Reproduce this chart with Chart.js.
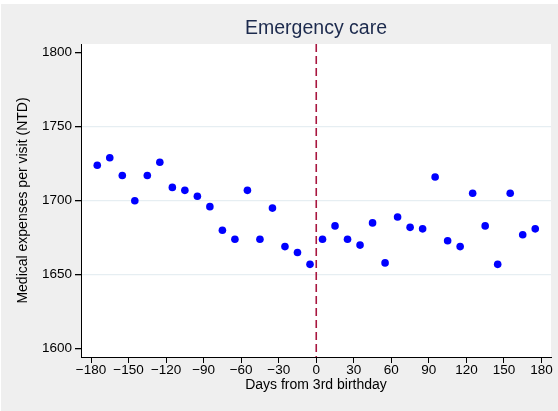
<!DOCTYPE html>
<html>
<head>
<meta charset="utf-8">
<script src="https://cdn.jsdelivr.net/npm/chart.js@4/dist/chart.umd.min.js"></script>
<style>
  html, body { margin: 0; padding: 0; background: #ffffff; }
  #wrap { position: absolute; left: 1px; top: 4px; width: 557px; height: 407px; background: #efefef; }
</style>
</head>
<body>
<div id="wrap"><canvas id="chart"></canvas></div>
<script>
// days from 3rd birthday (10-day bins, centre of bin)
const days = [
  -175, -165, -155, -145, -135, -125, -115, -105, -95, -85, -75, -65,
  -55, -45, -35, -25, -15, -5, 5, 15, 25, 35, 45, 55,
  65, 75, 85, 95, 105, 115, 125, 135, 145, 155, 165, 175
];
// mean medical expenses per visit (NTD)
const expenses = [
  1724, 1729, 1717, 1700, 1717, 1726, 1709, 1707, 1703, 1696, 1680, 1674,
  1707, 1674, 1695, 1669, 1665, 1657, 1674, 1683, 1674, 1670, 1685, 1658,
  1689, 1682, 1681, 1716, 1673, 1669, 1705, 1683, 1657, 1705, 1677, 1681
];
const yTicks = [1600, 1650, 1700, 1750, 1800];
const xTicks = [-180, -150, -120, -90, -60, -30, 0, 30, 60, 90, 120, 150, 180];
const cutoff = 0;

const FONT = '"Liberation Sans", Arial, sans-serif';

const plotBg = {
  id: 'plotBg',
  beforeDraw(chart) {
    const { ctx, chartArea: a } = chart;
    ctx.save();
    ctx.fillStyle = '#ffffff';
    ctx.fillRect(a.left, a.top, a.right - a.left, a.bottom - a.top);
    ctx.restore();
  },
};

const cutoffLine = {
  id: 'cutoffLine',
  beforeDatasetsDraw(chart) {
    const { ctx, chartArea: a, scales } = chart;
    const x = scales.x.getPixelForValue(cutoff);
    ctx.save();
    ctx.strokeStyle = '#a8163f';
    ctx.lineWidth = 1.6;
    ctx.setLineDash([8, 4]);
    ctx.beginPath();
    ctx.moveTo(x, a.top);
    ctx.lineTo(x, a.bottom);
    ctx.stroke();
    ctx.restore();
  },
};

new Chart(document.getElementById('chart'), {
  type: 'scatter',
  data: {
    datasets: [
      {
        data: days.map((d, i) => ({ x: d, y: expenses[i] })),
        backgroundColor: '#0000ff',
        borderWidth: 0,
        pointRadius: 3.8,
      },
    ],
  },
  options: {
    responsive: true,
    maintainAspectRatio: false,
    animation: false,
    layout: { padding: { right: 7 } },
    plugins: {
      legend: { display: false },
      tooltip: { enabled: false },
      title: {
        display: true,
        text: 'Emergency care',
        fullSize: false,
        color: '#1c2a4d',
        font: { family: FONT, size: 19.5, weight: 'normal' },
        padding: { top: 13, bottom: 3.6 },
      },
    },
    scales: {
      x: {
        type: 'linear',
        min: -188,
        max: 187.6,
        afterBuildTicks: (s) => { s.ticks = xTicks.map((v) => ({ value: v })); },
        afterFit: (s) => { s.height = 54; },
        ticks: {
          color: '#000000',
          padding: -0.5,
          font: { family: FONT, size: 13.5 },
          callback: (v) => (v < 0 ? '\u2212' + Math.abs(v) : String(v)),
        },
        grid: { drawOnChartArea: false, tickColor: '#000000', tickLength: 6 },
        border: { color: '#000000', width: 1 },
        title: {
          display: true,
          text: 'Days from 3rd birthday',
          color: '#000000',
          font: { family: FONT, size: 14 },
          padding: { top: 0, bottom: 17 },
        },
      },
      y: {
        min: 1594.4,
        max: 1805.9,
        afterBuildTicks: (s) => { s.ticks = yTicks.map((v) => ({ value: v })); },
        afterFit: (s) => { s.width = 80; },
        ticks: {
          color: '#000000',
          padding: 3,
          font: { family: FONT, size: 13.5 },
          callback: (v) => String(v),
        },
        grid: {
          color: (c) => (c.tick && (c.tick.value === 1600 || c.tick.value === 1800) ? 'rgba(0,0,0,0)' : '#e6eef2'),
          lineWidth: 1.3,
          tickColor: '#000000',
          tickLength: 6,
        },
        border: { color: '#000000', width: 1 },
        title: {
          display: true,
          text: 'Medical expenses per visit (NTD)',
          color: '#000000',
          font: { family: FONT, size: 14 },
          padding: { top: 14, bottom: 0 },
        },
      },
    },
  },
  plugins: [plotBg, cutoffLine],
});
</script>
</body>
</html>
